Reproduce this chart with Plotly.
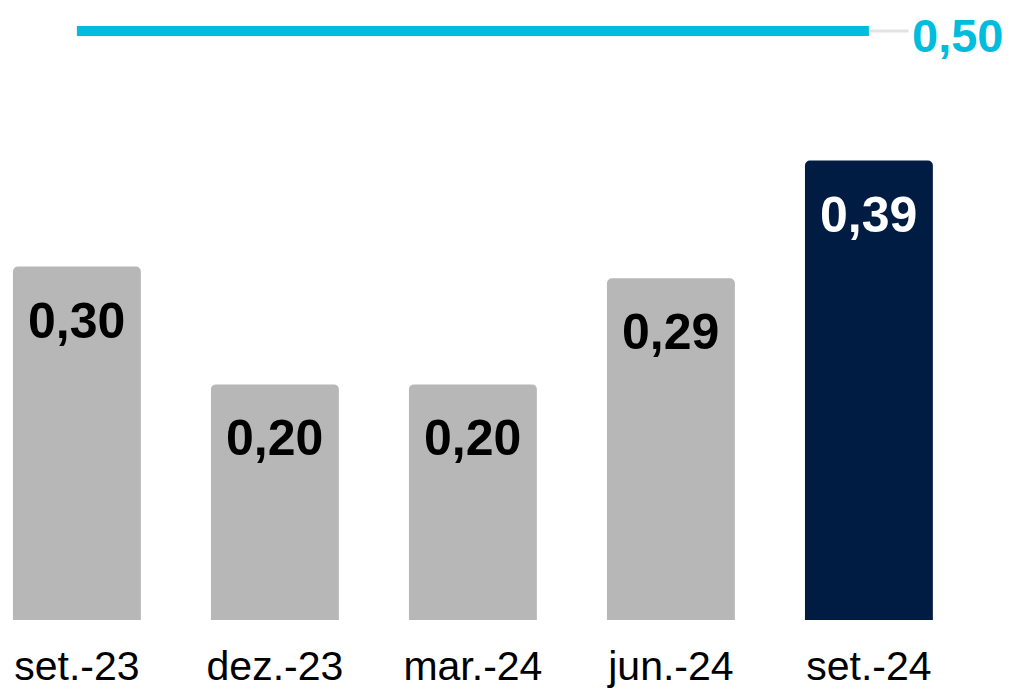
import plotly.graph_objects as go

# dados do gráfico
periodos = ['set.-23', 'dez.-23', 'mar.-24', 'jun.-24', 'set.-24']
valores = [0.30, 0.20, 0.20, 0.29, 0.39]
cores_barras = ['#B7B7B7', '#B7B7B7', '#B7B7B7', '#B7B7B7', '#001C42']
cores_texto = ['#000000', '#000000', '#000000', '#000000', '#FFFFFF']
meta = 0.50

def fmt(v):
    return f"{v:.2f}".replace('.', ',')

fig = go.Figure()

fig.add_trace(go.Bar(
    x=periodos,
    y=valores,
    marker=dict(color=cores_barras, cornerradius=5, line=dict(width=0)),
    width=0.646,
    hoverinfo='skip'
))

# linha da meta (0,50)
fig.add_trace(go.Scatter(
    x=[periodos[0], periodos[-1]],
    y=[meta, meta],
    mode='lines',
    line=dict(color='#00BCDD', width=10),
    hoverinfo='skip'
))

# prolongamento cinza da linha até o rótulo
fig.add_shape(type='line', x0=4, x1=4.2, y0=meta, y1=meta,
              line=dict(color='#E3E3E3', width=3), layer='below')

fig.add_annotation(x=4.205, y=meta, text=f"<b>{fmt(meta)}</b>", showarrow=False,
                   xanchor='left', yanchor='middle', yshift=-5,
                   font=dict(size=47, color='#00BCDD', family='Liberation Sans'))

# rótulos dentro das barras
for p, v, c in zip(periodos, valores, cores_texto):
    fig.add_annotation(x=p, y=v, text=f"<b>{fmt(v)}</b>", showarrow=False,
                       yanchor='middle', yshift=-54,
                       font=dict(size=50, color=c, family='Liberation Sans'))

# a página tem margem de 8px no body, por isso 1011x680
fig.update_layout(
    width=1011, height=680,
    margin=dict(l=0, r=0, t=0, b=68),
    plot_bgcolor='white',
    paper_bgcolor='white',
    showlegend=False,
    font=dict(family='Liberation Sans', color='#000000'),
    xaxis=dict(range=[-0.348, 4.758], showgrid=False, zeroline=False,
               showline=False, ticks='', ticklabelstandoff=18, automargin=False,
               tickfont=dict(size=41, color='#000000')),
    yaxis=dict(range=[0, 0.5195], visible=False, showgrid=False, zeroline=False),
)

fig.write_html("out.html")
